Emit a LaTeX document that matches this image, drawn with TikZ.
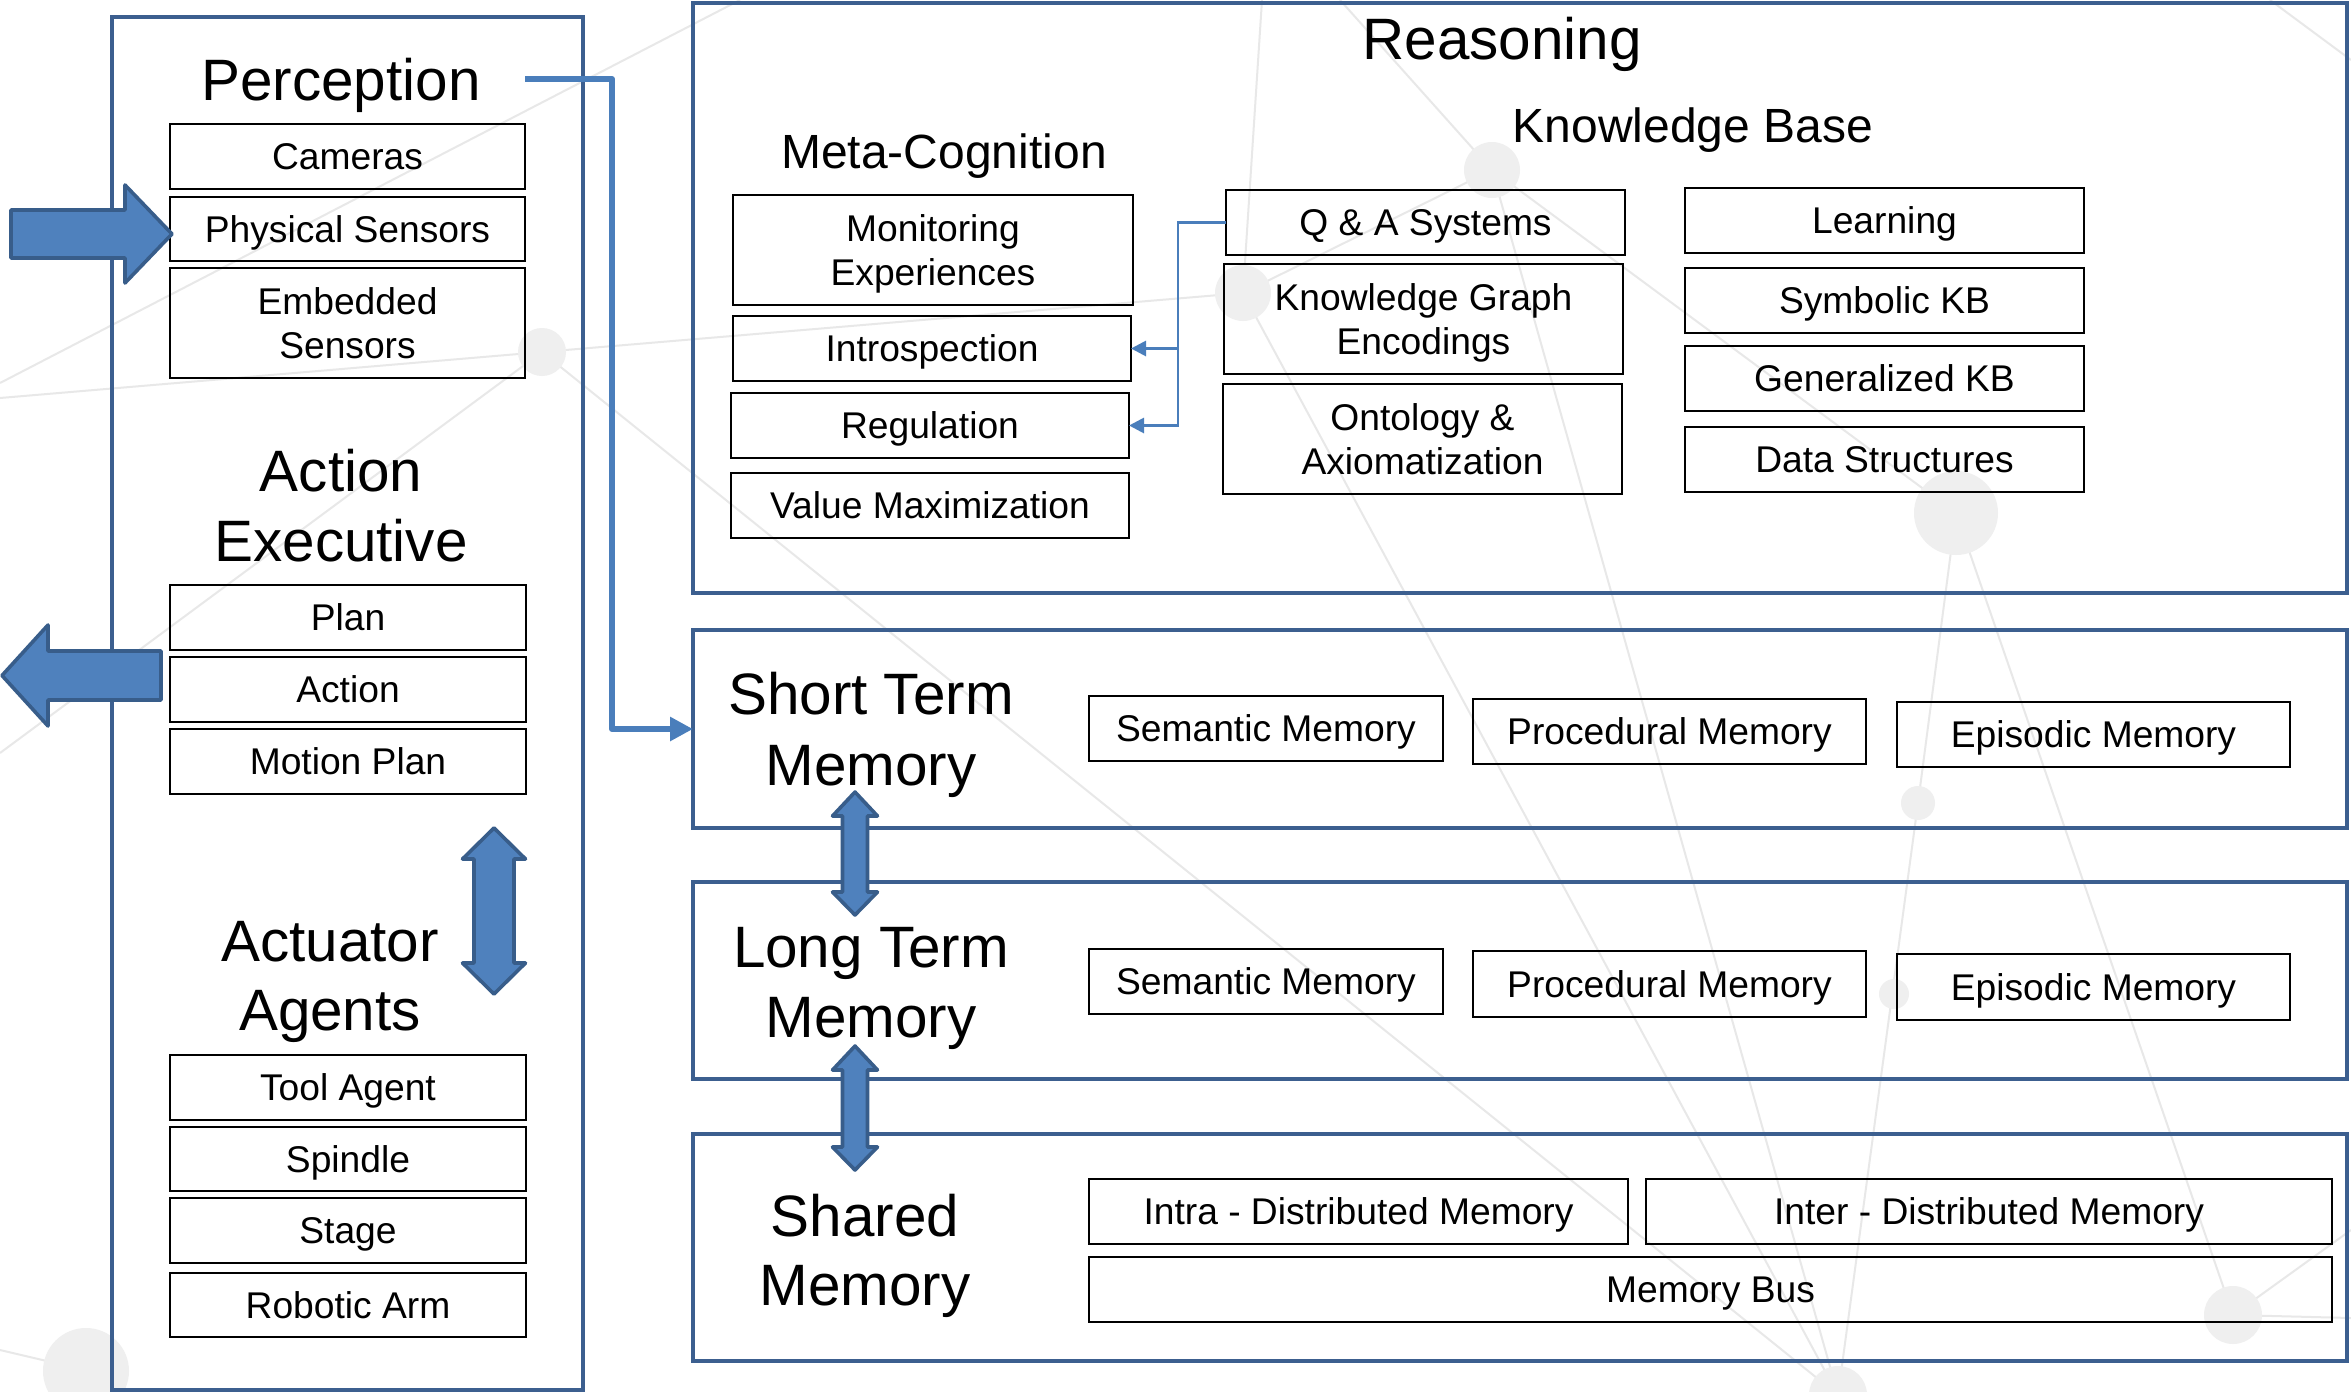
\documentclass[tikz,border=0pt]{standalone}
\usepackage{fontspec}
\setmainfont{Liberation Sans}
\usetikzlibrary{arrows.meta}
\definecolor{panel}{HTML}{3C5F8F}
\definecolor{arrowfill}{HTML}{4F81BD}
\definecolor{arrowline}{HTML}{385D8A}
\definecolor{connblue}{HTML}{4A7EBB}
\definecolor{bggray}{HTML}{E8E8E8}
\definecolor{bgdotc}{HTML}{EFEFEF}
\newcommand\mkbox[7][box]{\node[#1, minimum width={(#5-#3)*0.5pt}, minimum height={(#6-#4)*0.5pt}] (#2) at ({(#3+#5)/2},{(#4+#6)/2}) {#7};}
\newcommand\dblarr[7]{\draw[bigarrow] (#1,#2) -- (#1+#7,#3) -- (#1+#6,#3) -- (#1+#6,#4) -- (#1+#7,#4) -- (#1,#5) -- (#1-#7,#4) -- (#1-#6,#4) -- (#1-#6,#3) -- (#1-#7,#3) -- cycle;}
\begin{document}
\begin{tikzpicture}[x=0.5pt,y=-0.5pt,
 panelbox/.style={draw=panel, line width=2.3pt, inner sep=0pt, outer sep=0pt},
 box/.style={draw=black, line width=1.1pt, inner sep=0pt, outer sep=0pt, font=\fontsize{18.6}{22}\selectfont, text height=13.3pt, text depth=0pt},
 boxline/.style={inner sep=0pt, anchor=base, font=\fontsize{18.6}{22}\selectfont},
 title/.style={inner sep=0pt, anchor=base, font=\fontsize{29.2}{35}\selectfont},
 subtitle/.style={inner sep=0pt, anchor=base, font=\fontsize{24}{29}\selectfont},
 bigarrow/.style={fill=arrowfill, draw=arrowline, line width=1.8pt, line join=round},
 conn/.style={draw=connblue, line width=3pt, line join=round, -{Triangle[length=11.5pt,width=11.5pt]}},
 metaconn/.style={draw=connblue, line width=1.4pt, -{Triangle[length=7.5pt,width=7.5pt]}},
 bgline/.style={draw=bggray, line width=1pt},
 bgdot/.style={fill=bgdotc}
]
\fill[white] (0,0) rectangle (2351,1392);
\useasboundingbox (0,0) rectangle (2351,1392);
\begin{scope}
\clip (0,0) rectangle (2351,1392);
% background network
\draw[bgline] (0,398) -- (542,352) -- (1243,293);
\draw[bgline] (542,352) -- (0,753);
\draw[bgline] (542,352) -- (1838,1395);
\draw[bgline] (740,0) -- (0,383);
\draw[bgline] (1243,293) -- (1262,0);
\draw[bgline] (1243,293) -- (1492,170);
\draw[bgline] (1243,293) -- (1838,1395);
\draw[bgline] (1492,170) -- (1956,513);
\draw[bgline] (1492,170) -- (1838,1395);
\draw[bgline] (1492,170) -- (1340,0);
\draw[bgline] (1956,513) -- (1918,803) -- (1838,1395);
\draw[bgline] (1956,513) -- (2233,1315);
\draw[bgline] (2233,1315) -- (2351,1230);
\draw[bgline] (2233,1315) -- (2351,1318);
\draw[bgline] (2270,0) -- (2351,60);
\draw[bgline] (85,1370) -- (0,1350);
\fill[bgdot] (1492,170) circle (28);
\fill[bgdot] (1243,293) circle (28);
\fill[bgdot] (542,352) circle (24);
\fill[bgdot] (1956,513) circle (42);
\fill[bgdot] (1918,803) circle (17);
\fill[bgdot] (1894,994) circle (15);
\fill[bgdot] (2233,1315) circle (29);
\fill[bgdot] (1838,1395) circle (29);
\fill[bgdot] (86,1371) circle (43);
\end{scope}

% ---------- left panel ----------
\mkbox[panelbox]{left}{112}{17}{583}{1390}{}
\node[title] (tPer) at (341,100) {Perception};
\mkbox{cam}{170}{124}{525}{189}{Cameras}
\mkbox{phys}{170}{197}{525}{261}{Physical Sensors}
\mkbox{emb}{170}{268}{525}{378}{}
\node[boxline] (embA) at (347.5,314.5) {Embedded};
\node[boxline] (embB) at (347.5,358.5) {Sensors};

\node[title] (tAct) at (341,491) {Action};
\node[title] (tExe) at (341,561) {Executive};
\mkbox{plan}{170}{585}{526}{650}{Plan}
\mkbox{act}{170}{657}{526}{722}{Action}
\mkbox{mplan}{170}{729}{526}{794}{Motion Plan}

\node[title] (tActu) at (330,961) {Actuator};
\node[title] (tAgt) at (330,1030) {Agents};
\mkbox{tool}{170}{1055}{526}{1120}{Tool Agent}
\mkbox{spin}{170}{1127}{526}{1191}{Spindle}
\mkbox{stage}{170}{1198}{526}{1263}{Stage}
\mkbox{arm}{170}{1273}{526}{1337}{Robotic Arm}

% ---------- reasoning panel ----------
\mkbox[panelbox]{reas}{693}{3}{2347}{593}{}
\node[title] (tRea) at (1502,59) {Reasoning};
\node[subtitle] (tKB) at (1693,142) {Knowledge Base};
\node[subtitle] (tMC) at (944,168) {Meta-Cognition};

\mkbox{mon}{733}{195}{1133}{305}{}
\node[boxline] (monA) at (933,241.5) {Monitoring};
\node[boxline] (monB) at (933,285.5) {Experiences};
\mkbox{intro}{733}{316}{1131}{381}{Introspection}
\mkbox{reg}{731}{393}{1129}{458}{Regulation}
\mkbox{vmax}{731}{473}{1129}{538}{Value Maximization}

\mkbox{qa}{1226}{190}{1625}{255}{Q \& A Systems}
\mkbox{kg}{1224}{264}{1623}{374}{}
\node[boxline] (kgA) at (1423.5,310.5) {Knowledge Graph};
\node[boxline] (kgB) at (1423.5,354.5) {Encodings};
\mkbox{ont}{1223}{384}{1622}{494}{}
\node[boxline] (ontA) at (1422.5,430.5) {Ontology \&};
\node[boxline] (ontB) at (1422.5,474.5) {Axiomatization};

\mkbox{learn}{1685}{188}{2084}{253}{Learning}
\mkbox{symkb}{1685}{268}{2084}{333}{Symbolic KB}
\mkbox{genkb}{1685}{346}{2084}{411}{Generalized KB}
\mkbox{dstr}{1685}{427}{2084}{492}{Data Structures}

% ---------- memory panels ----------
\mkbox[panelbox]{stm}{693}{630}{2347}{828}{}
\node[title] (tSTa) at (871,714) {Short Term};
\node[title] (tSTb) at (871,785) {Memory};
\mkbox{ssem}{1089}{696}{1443}{761}{Semantic Memory}
\mkbox{sproc}{1473}{699}{1866}{764}{Procedural Memory}
\mkbox{sepi}{1897}{702}{2290}{767}{Episodic Memory}

\mkbox[panelbox]{ltm}{693}{882}{2347}{1079}{}
\node[title] (tLTa) at (871,967) {Long Term};
\node[title] (tLTb) at (871,1037) {Memory};
\mkbox{lsem}{1089}{949}{1443}{1014}{Semantic Memory}
\mkbox{lproc}{1473}{951}{1866}{1017}{Procedural Memory}
\mkbox{lepi}{1897}{954}{2290}{1020}{Episodic Memory}

\mkbox[panelbox]{shm}{693}{1134}{2347}{1361}{}
\node[title] (tSHa) at (865,1236) {Shared};
\node[title] (tSHb) at (865,1305) {Memory};
\mkbox{intra}{1089}{1179}{1628}{1244}{Intra - Distributed Memory}
\mkbox{inter}{1646}{1179}{2332}{1244}{Inter - Distributed Memory}
\mkbox{bus}{1089}{1257}{2332}{1322}{Memory Bus}

% ---------- big arrows ----------
\draw[bigarrow] (11,210) -- (125,210) -- (125,185) -- (172,234) -- (125,283) -- (125,258) -- (11,258) -- cycle;
\draw[bigarrow] (161,651) -- (48,651) -- (48,625) -- (2,675.5) -- (48,726) -- (48,700) -- (161,700) -- cycle;
\dblarr{494}{828}{859}{963}{994}{20}{31.5}
\dblarr{855}{792}{816}{892}{915}{12.5}{22.5}
\dblarr{855}{1046}{1070}{1147}{1170}{12.5}{22.5}

% ---------- connectors ----------
\coordinate (pstart) at (525,79);
\coordinate (pcx) at (612,400);
\draw[conn] (pstart) -- (pstart -| pcx) |- (stm.west);
\coordinate (mcx) at (1178,300);
\draw[metaconn] (qa.west) -- (qa.west -| mcx) |- (reg.east);
\draw[metaconn] (intro.east -| mcx) -- (intro.east);
\end{tikzpicture}
\end{document}
